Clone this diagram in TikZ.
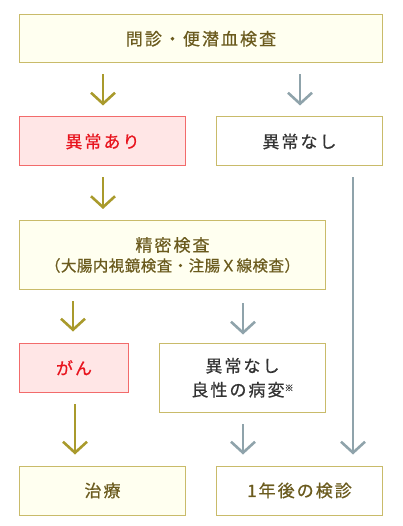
\documentclass[tikz,border=0pt]{standalone}
\usepackage{fontspec}
\newfontfamily\jp[FakeBold=0.6]{Noto Sans CJK JP}
\usetikzlibrary{arrows.meta,calc}
\definecolor{olivebd}{HTML}{C9BB6A}
\definecolor{cream}{HTML}{FFFFF0}
\definecolor{pinkfill}{HTML}{FFE6E6}
\definecolor{pinkbd}{HTML}{F26B6B}
\definecolor{redtxt}{HTML}{E8141E}
\definecolor{olivetxt}{HTML}{6B5B1E}
\definecolor{darktxt}{HTML}{333333}
\definecolor{oarrow}{HTML}{A99A2C}
\definecolor{garrow}{HTML}{8FA3AB}
\tikzset{
  box/.style={draw=olivebd, line width=1pt, inner sep=0pt, align=center,
    font=\jp\fontsize{17}{24}\selectfont\addfontfeatures{LetterSpace=12}},
  creambox/.style={box, fill=cream, text=olivetxt},
  whitebox/.style={box, fill=white, text=darktxt},
  pinkbox/.style={box, draw=pinkbd, fill=pinkfill, text=redtxt},
  arr/.style={line width=2.6pt, -{Straight Barb[length=11pt,width=24pt,line width=2.6pt]}},
  oarr/.style={arr, draw=oarrow},
  garr/.style={arr, draw=garrow},
}
\begin{document}
\begin{tikzpicture}[x=1pt,y=-1pt]
\useasboundingbox (0,0) rectangle (403,526);
\node[creambox, minimum width=363pt, minimum height=48.5pt] (top) at (201,38.75) {問診・便潜血検査};
\node[pinkbox, minimum width=166pt, minimum height=49pt] (abn) at (102.5,141.5) {異常あり};
\node[whitebox, minimum width=166pt, minimum height=49pt] (nor) at (299.5,141.5) {異常なし};
\node[creambox, minimum width=306pt, minimum height=69pt] (det) at (172.5,255) {精密検査\\[-4pt]{\fontsize{15.5}{18}\selectfont\addfontfeatures{LetterSpace=3}（大腸内視鏡検査・注腸Ｘ線検査）}};
\node[pinkbox, minimum width=109pt, minimum height=49.5pt] (can) at (74,367.75) {がん};
\node[whitebox, minimum width=166pt, minimum height=69.5pt] (ben) at (242.5,377.75) {異常なし\\良性の病変\raisebox{5pt}{\fontsize{9}{9}\selectfont ※}};
\node[creambox, minimum width=166pt, minimum height=49pt] (tre) at (102.5,490.5) {治療};
\node[whitebox, minimum width=166pt, minimum height=49pt, text=olivetxt] (fol) at (299.5,490.5) {1年後の検診};
\draw[oarr] ($(top.south)+(-98,11)$) -- ($(abn.north)+(0.5,-11)$);
\draw[garr] ($(top.south)+(99,11)$) -- ($(nor.north)+(0.5,-11)$);
\draw[oarr] ($(abn.south)+(0.5,11)$) -- ($(det.north -| abn.south)+(0.5,-11)$);
\coordinate (xr) at (353,0);
\draw[garr] ($(nor.south -| xr)+(0,11)$) -- ($(fol.north -| xr)+(0,-11)$);
\draw[oarr] ($(det.south -| can.south)+(-1,11)$) -- ($(can.north)+(-1,-11)$);
\draw[garr] ($(det.south -| ben.south)+(0.5,13)$) -- ($(ben.north)+(0.5,-8)$);
\draw[oarr] ($(can.south)+(1,11)$) -- ($(tre.north -| can.south)+(1,-11)$);
\draw[garr] ($(ben.south)+(0.5,11)$) -- ($(fol.north -| ben.south)+(0.5,-11)$);
\end{tikzpicture}
\end{document}
